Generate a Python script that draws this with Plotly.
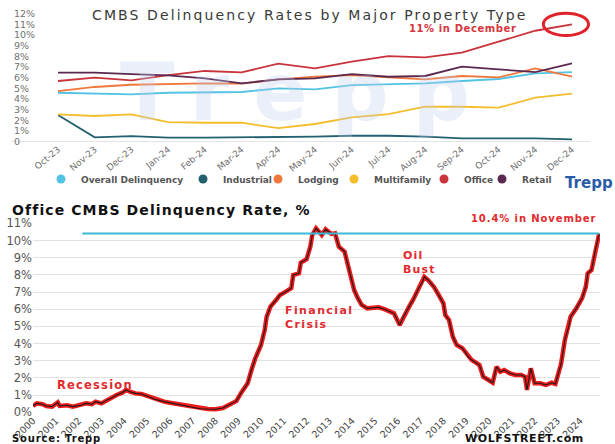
import plotly.graph_objects as go

# ---- Top panel: CMBS delinquency rates by property type (%) ----
months = ["Oct-23", "Nov-23", "Dec-23", "Jan-24", "Feb-24", "Mar-24", "Apr-24",
          "May-24", "Jun-24", "Jul-24", "Aug-24", "Sep-24", "Oct-24", "Nov-24", "Dec-24"]
overall = [4.59, 4.53, 4.44, 4.59, 4.66, 4.66, 5.00, 4.91, 5.31, 5.41, 5.47, 5.69, 5.88, 6.41, 6.53]
industrial = [2.50, 0.41, 0.53, 0.38, 0.38, 0.41, 0.41, 0.47, 0.56, 0.56, 0.47, 0.31, 0.31, 0.31, 0.22]
lodging = [4.75, 5.13, 5.34, 5.44, 5.47, 5.44, 5.84, 6.09, 6.25, 6.03, 5.84, 6.16, 6.03, 6.88, 6.09]
multifamily = [2.56, 2.41, 2.56, 1.84, 1.78, 1.78, 1.28, 1.66, 2.28, 2.59, 3.28, 3.28, 3.19, 4.13, 4.50]
office = [5.69, 6.00, 5.75, 6.25, 6.63, 6.50, 7.31, 6.88, 7.50, 8.03, 7.90, 8.34, 9.38, 10.40, 11.00]
retail = [6.47, 6.47, 6.34, 6.22, 5.94, 5.47, 5.84, 5.94, 6.34, 6.09, 6.16, 7.03, 6.78, 6.53, 7.34]
top_ticks = list(range(0, 13))
top_ticktext = ["0"] + [f"{v}%" for v in top_ticks[1:]]

# ---- Bottom panel: office CMBS delinquency rate history (%) ----
office_month = [
    "2000-01", "2000-03", "2000-06", "2000-08", "2000-11", "2001-02", "2001-03", "2001-07",
    "2001-10", "2002-02", "2002-05", "2002-08", "2002-10", "2003-01", "2003-04", "2003-06",
    "2003-09", "2003-12", "2004-02", "2004-04", "2004-07", "2004-10", "2005-02", "2005-05",
    "2005-10", "2006-01", "2006-06", "2006-09", "2007-02", "2007-05", "2007-09", "2008-01",
    "2008-05", "2008-08", "2008-12", "2009-03", "2009-06", "2009-08", "2009-10", "2010-01",
    "2010-03", "2010-04", "2010-06", "2010-09", "2010-11", "2011-02", "2011-05", "2011-06",
    "2011-09", "2011-10", "2012-01", "2012-03", "2012-04", "2012-06", "2012-09", "2012-11",
    "2013-02", "2013-04", "2013-06", "2013-09", "2013-12", "2014-02", "2014-04", "2014-06",
    "2014-09", "2015-01", "2015-03", "2015-06", "2015-11", "2016-02", "2016-04", "2016-07",
    "2016-09", "2016-12", "2017-02", "2017-03", "2017-05", "2017-08", "2017-10", "2018-01",
    "2018-02", "2018-04", "2018-06", "2018-08", "2018-11", "2019-02", "2019-04", "2019-06",
    "2019-08", "2019-10", "2020-01", "2020-03", "2020-05", "2020-07", "2020-09", "2020-12",
    "2021-03", "2021-06", "2021-08", "2021-09", "2021-11", "2022-01", "2022-04", "2022-07",
    "2022-10", "2022-12", "2023-02", "2023-03", "2023-05", "2023-07", "2023-08", "2023-11",
    "2024-02", "2024-04", "2024-05", "2024-07", "2024-09", "2024-11",
]
office_rate = [
    0.37, 0.52, 0.47, 0.37, 0.33, 0.58, 0.37, 0.41,
    0.33, 0.41, 0.52, 0.47, 0.62, 0.52, 0.72, 0.81,
    1.01, 1.14, 1.30, 1.20, 1.10, 1.07, 0.91, 0.76,
    0.62, 0.56, 0.47, 0.41, 0.29, 0.21, 0.19, 0.18,
    0.25, 0.42, 0.65, 1.20, 1.69, 2.46, 3.14, 3.92,
    4.79, 5.56, 6.15, 6.54, 6.83, 7.02, 7.22, 7.99,
    8.09, 8.71, 8.91, 9.64, 10.32, 10.71, 10.32, 10.65,
    10.38, 10.42, 9.64, 9.35, 7.99, 7.12, 6.64, 6.25,
    6.05, 6.11, 6.11, 6.00, 5.76, 5.08, 5.56, 6.15,
    6.54, 7.22, 7.60, 7.89, 7.70, 7.31, 6.93, 6.34,
    5.66, 5.37, 4.40, 3.92, 3.73, 3.24, 3.04, 2.90,
    2.75, 2.07, 1.88, 1.72, 2.65, 2.36, 2.46, 2.27,
    2.17, 2.17, 2.07, 1.30, 2.56, 1.69, 1.69, 1.59,
    1.72, 1.65, 2.46, 2.81, 4.21, 4.98, 5.56, 6.05,
    6.64, 7.31, 8.09, 8.28, 9.45, 10.40,
]
latest_rate = office_rate[-1]
prior_peak_line_start = "2002-03"

W, H = 615, 444
TOP_FONT = "DejaVu Sans"
RED = "#e22a2e"


def spaced(text, px):
    """Wrap text in a span with extra letter spacing."""
    return f'<span style="letter-spacing:{px}px">{text}</span>'


series = [
    ("Overall Delinquency", overall, "#52c3e2"),
    ("Industrial", industrial, "#22616d"),
    ("Lodging", lodging, "#f0783c"),
    ("Multifamily", multifamily, "#f3bd2c"),
    ("Office", office, "#c9343c"),
    ("Retail", retail, "#5b2850"),
]
legend_marker_px = [61, 203, 278, 354, 444, 502]

fig = go.Figure()

for name, vals, col in series:
    fig.add_trace(go.Scatter(
        x=months, y=vals, mode="lines", name=name,
        line=dict(color=col, width=1.8), showlegend=False,
        xaxis="x", yaxis="y", hoverinfo="skip",
    ))

# one small legend per series so each dot can sit at its own spot
legend_layout = {}
for i, ((name, vals, col), mx) in enumerate(zip(series, legend_marker_px)):
    key = "legend" if i == 0 else f"legend{i + 1}"
    fig.add_trace(go.Scatter(
        x=[None], y=[None], mode="markers", name=name,
        marker=dict(size=9, color=col), legend=key,
        xaxis="x", yaxis="y",
    ))
    legend_layout[key] = dict(
        x=(mx - 20) / W, xanchor="left", y=1 - 179 / H, yanchor="middle",
        bgcolor="rgba(0,0,0,0)", borderwidth=0,
        font=dict(family=TOP_FONT, size=9, color="#555555", weight="bold"),
        itemwidth=30,
    )

# bottom panel: thick red band with a thin black trace on top
fig.add_trace(go.Scatter(
    x=office_month, y=office_rate, mode="lines",
    line=dict(color="#ee1c1c", width=4.5), showlegend=False,
    xaxis="x2", yaxis="y2", hoverinfo="skip",
))
fig.add_trace(go.Scatter(
    x=office_month, y=office_rate, mode="lines",
    line=dict(color="#1a1a1a", width=1.1), showlegend=False,
    xaxis="x2", yaxis="y2", hoverinfo="skip",
))
# horizontal reference at the latest reading
fig.add_trace(go.Scatter(
    x=[prior_peak_line_start, office_month[-1]], y=[latest_rate, latest_rate],
    mode="lines", line=dict(color="#3bb9d6", width=2), showlegend=False,
    xaxis="x2", yaxis="y2", hoverinfo="skip",
))


def note(text, x, y, size, color, family="DejaVu Sans", xanchor="center", align="center"):
    return dict(text=text, x=x / W, y=1 - y / H, xref="paper", yref="paper",
                xanchor=xanchor, yanchor="middle", align=align, showarrow=False,
                font=dict(family=family, size=size, color=color))


annotations = [
    # faint watermark behind the top panel
    note(spaced("<b>Trepp</b>", 24), 307, 92, 80, "rgba(190,205,235,0.32)", TOP_FONT),
    note(spaced("CMBS Delinquency Rates by Major Property Type", 2.1), 309, 15, 14,
         "#3a3a3a", TOP_FONT),
    note(spaced(f"<b>{office[-1]:.0f}% in December</b>", 0.6), 463, 28, 10, "#d6353d", TOP_FONT),
    note("<b>Trepp</b>", 615, 183, 15, "#2b5ca8", TOP_FONT, xanchor="right"),
    note(spaced("<b>Office CMBS Delinquency Rate, %</b>", 1.1), 10, 210, 14, "#111111",
         xanchor="left"),
    note(spaced(f"<b>{latest_rate}% in November</b>", 0.9), 533, 219, 10, RED),
    note(spaced("<b>Recession</b>", 1.2), 55, 385, 11.5, RED, xanchor="left"),
    note(spaced("<b>Financial<br>Crisis</b>", 1.4), 283, 317, 11, RED, xanchor="left",
         align="left"),
    note(spaced("<b>Oil<br>Bust</b>", 1.2), 401, 262, 11, RED, xanchor="left", align="left"),
    note(spaced("<b>Source: Trepp</b>", 0.85), 10, 438, 10, "#111111", xanchor="left"),
    note(spaced("<b>WOLFSTREET.com</b>", 0.6), 586, 438, 11, "#111111", xanchor="right"),
]

# red ring around the December office reading
last_i = len(months) - 1
shapes = [
    dict(type="circle", xref="x", yref="y",
         x0=last_i - 0.78, x1=last_i + 0.45, y0=office[-1] - 1.05, y1=office[-1] + 1.05,
         line=dict(color="#e0232a", width=3)),
]

fig.update_layout(
    width=W, height=H,
    margin=dict(l=0, r=0, t=0, b=0, autoexpand=False),
    paper_bgcolor="white", plot_bgcolor="rgba(0,0,0,0)",
    annotations=annotations, shapes=shapes,
    xaxis=dict(
        domain=[11 / W, 590 / W], type="category", range=[-1.28, 14.49],
        anchor="free", position=1 - 141.7 / H, tickangle=-40,
        showgrid=False, showline=False, ticks="", automargin=False,
        tickfont=dict(family=TOP_FONT, size=9, color="#707070"),
    ),
    yaxis=dict(
        domain=[1 - 152.4 / H, 1 - 3 / H], range=[-1, 13], anchor="x",
        tickvals=top_ticks, ticktext=top_ticktext, ticklabelposition="inside",
        showgrid=False, zeroline=True, zerolinecolor="#e4e4e4", zerolinewidth=1,
        showline=False, automargin=False,
        tickfont=dict(family=TOP_FONT, size=9.5, color="#707070"),
    ),
    xaxis2=dict(
        domain=[33 / W, 600 / W], type="date", range=["2000-01-01", "2024-11-14"],
        anchor="y2", dtick="M12", tick0="2000-01-01", tickformat="%Y", tickangle=-45,
        showgrid=False, showline=False, ticks="", automargin=False,
        tickfont=dict(family="DejaVu Sans", size=9.5, color="#444444"),
    ),
    yaxis2=dict(
        domain=[1 - 412.3 / H, 1 - 223.3 / H], range=[0, 11], anchor="x2",
        dtick=1, ticksuffix="%", showgrid=True, gridcolor="#e2e2e2", gridwidth=1,
        zeroline=False, showline=False, automargin=False,
        tickfont=dict(family="DejaVu Sans", size=11.5, color="#555555"),
    ),
    **legend_layout,
)

fig.write_html("out.html")
